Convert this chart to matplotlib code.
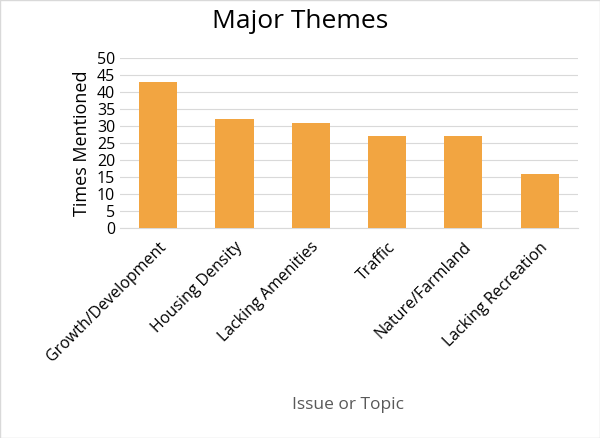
import matplotlib
matplotlib.use("Agg")
import matplotlib.pyplot as plt

categories = ["Growth/Development", "Housing Density", "Lacking Amenities", "Traffic", "Nature/Farmland", "Lacking Recreation"]
values = [43, 32, 31, 27, 27, 16]
yticks = [0, 5, 10, 15, 20, 25, 30, 35, 40, 45, 50]

plt.rcParams['font.family'] = ['Open Sans', 'DejaVu Sans']
fig = plt.figure(figsize=(6, 4.38), dpi=100)
ax = fig.add_axes([0.2, 0.479, 0.763, 0.389])
ax.bar(range(len(categories)), values, width=0.5, color="#F2A541", zorder=3)
ax.set_xlim(-0.5, len(categories) - 0.5)
ax.set_ylim(0, 50)
ax.set_yticks(yticks)
ax.yaxis.grid(True, color="#D9D9D9", linewidth=0.8, zorder=0)
for s in ["top", "right", "left"]:
    ax.spines[s].set_visible(False)
ax.spines["bottom"].set_color("#D9D9D9")
ax.tick_params(axis="both", length=0, labelsize=11.5, colors="black")
ax.tick_params(axis="x", pad=8)
ax.set_xticks(range(len(categories)))
ax.set_xticklabels(categories, rotation=45, ha="right", rotation_mode="anchor")
ax.set_ylabel("Times Mentioned", fontsize=13, labelpad=4)
fig.text(0.58, 0.075, "Issue or Topic", ha="center", va="center", fontsize=12.5, color="#595959")
fig.text(0.5, 0.95, "Major Themes", ha="center", va="center", fontsize=19)
fig.patches.append(plt.Rectangle((0, 0), 1, 1, transform=fig.transFigure, fill=False, edgecolor="#D9D9D9", linewidth=1))
fig.savefig("out.png", dpi=100)
